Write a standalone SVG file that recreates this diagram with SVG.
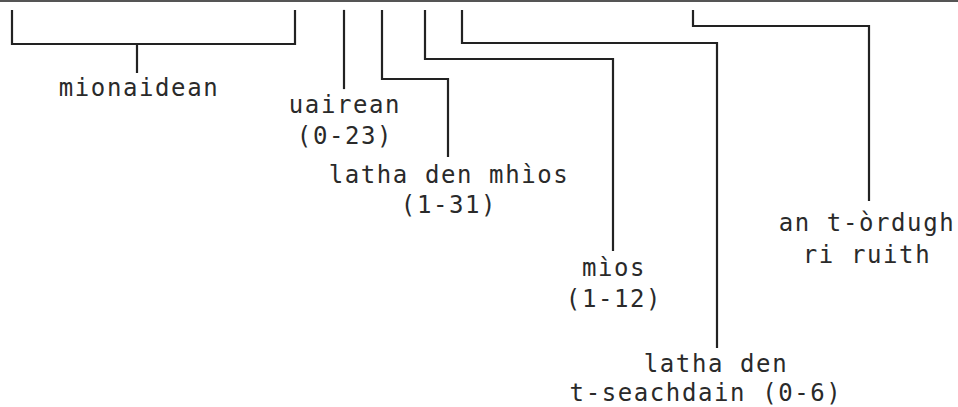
<svg xmlns="http://www.w3.org/2000/svg" width="958" height="407" viewBox="0 0 958 407">
<style>
.c{fill:none;stroke:#222;stroke-width:2.2;stroke-linejoin:miter;stroke-linecap:square}
.t{font-family:"DejaVu Sans Mono",monospace;font-size:24px;letter-spacing:1.6px;fill:#2a2a2a;text-anchor:middle}
</style>
<rect width="958" height="407" fill="#fff"/>
<line x1="0" y1="1" x2="958" y2="1" stroke="#555" stroke-width="2"/>
<g id="connectors">
<path class="c" d="M12,11 V44 H295 V11 M137,44 V72"/>
<path class="c" d="M344,11 V88"/>
<path class="c" d="M382,11 V79 H448 V156"/>
<path class="c" d="M425,11 V59 H613 V250"/>
<path class="c" d="M462,11 V43 H717 V347"/>
<path class="c" d="M693,11 V26 H869 V200"/>
</g>
<g id="minutes"><text class="t" x="139" y="96">mionaidean</text></g>
<g id="hours"><text class="t" x="345" y="113">uairean</text><text class="t" x="345" y="144">(0-23)</text></g>
<g id="dom"><text class="t" x="449" y="183">latha den mhìos</text><text class="t" x="449" y="213">(1-31)</text></g>
<g id="month"><text class="t" x="614" y="276">mìos</text><text class="t" x="614" y="307">(1-12)</text></g>
<g id="dow"><text class="t" x="716" y="372">latha den</text><text class="t" x="706" y="401">t-seachdain (0-6)</text></g>
<g id="command"><text class="t" x="867" y="231">an t-òrdugh</text><text class="t" x="867" y="263">ri ruith</text></g>
</svg>
